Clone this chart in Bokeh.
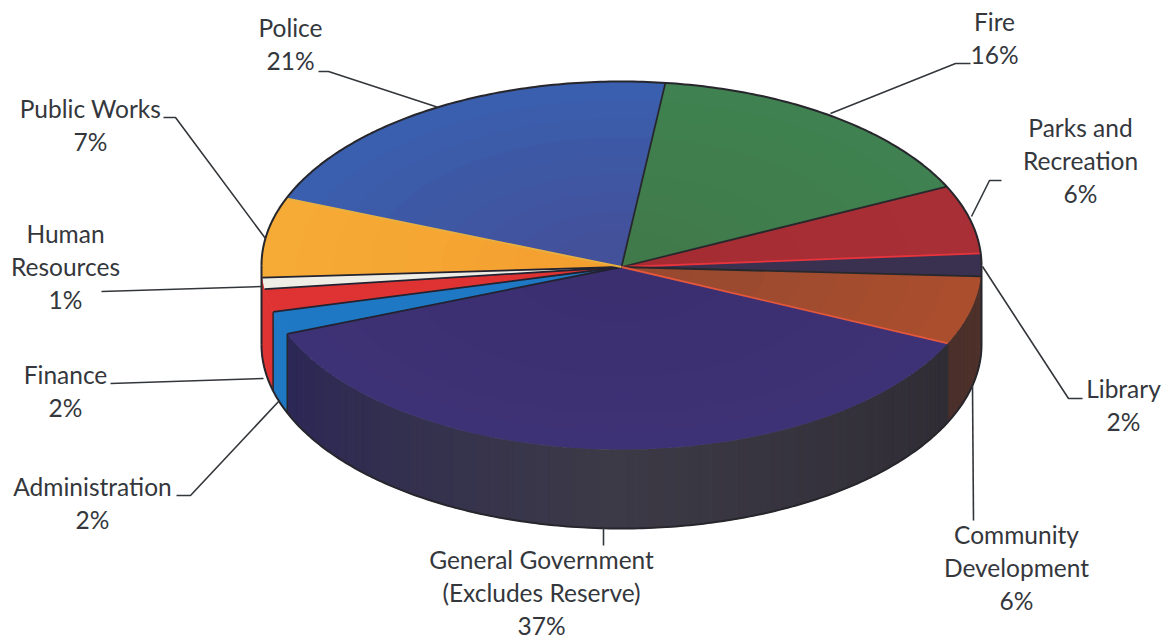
import numpy as np
from bokeh.core.properties import value
from bokeh.embed import file_html
from bokeh.models import Range1d
from bokeh.plotting import figure
from bokeh.resources import INLINE

# Budget shares, clockwise from the top of the pie
departments = ["Fire", "Parks and Recreation", "Library", "Community Development",
               "General Government", "Administration", "Finance", "Human Resources",
               "Public Works", "Police"]
shares = [16, 6, 2, 6, 37, 2, 2, 1, 7, 21]

# Top-face colours at the outer edge and towards the hub
top_outer = ["#3f8150", "#a92f36", "#3a3150", "#aa4e2e", "#3e3276", "#1f78c4",
             "#df3333", "#eeeee6", "#f6ab36", "#3a5fae"]
top_inner = ["#417a4a", "#a52c33", "#3a3150", "#98492f", "#3b2f70", "#1f78c4",
             "#df3333", "#eeeee6", "#f4a030", "#43509a"]
# Rim colours at each slice's start, middle and end
side_from = ["#2f6040", "#7a2a2c", "#2e2a36", "#4d3029", "#2f2c34", "#1f78c4",
             "#df3333", "#df3333", "#df3333", "#2f4a88"]
side_mid = ["#2f6040", "#7a2a2c", "#2e2a36", "#4c3029", "#3c3a46", "#1f78c4",
            "#df3333", "#df3333", "#df3333", "#2f4a88"]
side_to = ["#2f6040", "#7a2a2c", "#2e2a36", "#4a2f2a", "#2c2756", "#1f78c4",
           "#df3333", "#df3333", "#df3333", "#2f4a88"]
edge_colors = ["#27282c", "#27282c", "#e8343c", "#27282c", "#e4573c", "#222230",
               "#222230", "#222230", "#222230", "#e8b040"]

# Label text rows per department, with the column centre and first-row height
label_rows = {
    "Police": (["Police"], 290, 27),
    "Fire": (["Fire"], 994, 21),
    "Parks and Recreation": (["Parks and", "Recreation"], 1080, 127),
    "Library": (["Library"], 1123, 388),
    "Community Development": (["Community", "Development"], 1016, 534),
    "General Government": (["General Government", "(Excludes Reserve)"], 541, 559),
    "Administration": (["Administration"], 92, 486),
    "Finance": (["Finance"], 65, 374),
    "Human Resources": (["Human", "Resources"], 65, 233),
    "Public Works": (["Public Works"], 90, 108),
}

# Leader lines from each label to its slice
leaders = [
    ([318, 328, 438], [71, 71, 107]),
    ([970, 955, 830], [63, 63, 113]),
    ([1001, 989, 971], [180, 180, 216]),
    ([1082, 1068, 982], [398, 398, 266]),
    ([972, 973], [385, 520]),
    ([603, 603], [527, 545]),
    ([176, 190, 279], [495, 495, 400]),
    ([110, 263], [383, 378]),
    ([101, 262], [291, 286]),
    ([163, 175, 265], [117, 117, 238]),
]

CX, CY, RX, RY, DEPTH = 621, 265, 360, 184, 79
HUB_Y = 266.5
START = 7.0
INK = "#26262c"
TEXT = "#34373c"
FONT = "Lato"
ROW = 32.8


def rim(deg):
    t = np.radians(deg)
    return CX + RX * np.sin(t), CY - RY * np.cos(t)


def mix(a, b, f):
    ca = np.array([int(a[i:i + 2], 16) for i in (1, 3, 5)])
    cb = np.array([int(b[i:i + 2], 16) for i in (1, 3, 5)])
    c = np.round(ca + (cb - ca) * f).astype(int)
    return "#%02x%02x%02x" % tuple(c)


p = figure(width=1168, height=640, output_backend="svg", toolbar_location=None,
           x_range=Range1d(0, 1168), y_range=Range1d(640, 0),
           min_border=0, outline_line_color=None, background_fill_color="white")
p.axis.visible = False
p.grid.visible = False

sweeps = np.array(shares) * 3.6
bounds = START + np.concatenate([[0], np.cumsum(sweeps)])

# Rim: narrow vertical strips along the part of the edge that faces the viewer
for i in range(len(shares)):
    a0, a1 = max(bounds[i], 90), min(bounds[i + 1], 270)
    if a1 <= a0:
        continue
    n = max(2, int((a1 - a0) / 2))
    edges = np.linspace(a0, a1, n + 1)
    for j in range(n):
        x0, y0 = rim(edges[j])
        x1, y1 = rim(edges[j + 1])
        f = j / max(1, n - 1)
        c = mix(side_from[i], side_mid[i], f * 2) if f < 0.5 else mix(side_mid[i], side_to[i], f * 2 - 1)
        p.patch([x0, x1, x1, x0], [y0, y1, y1 + DEPTH, y0 + DEPTH],
                fill_color=c, line_color=c, line_width=1)

# Dark seams at the rim where neighbouring bright slices meet
for b in bounds:
    if 240 < b < 260:
        x, y = rim(b)
        p.line([x, x], [y, y + DEPTH], line_color=INK, line_width=1.5)

# Top face, shaded in rings from the outer edge towards the hub
for i in range(len(shares)):
    arc = np.linspace(bounds[i], bounds[i + 1], max(3, int(sweeps[i]) + 2))
    xs, ys = rim(arc)
    for scale in np.linspace(1.0, 0.2, 9):
        c = mix(top_outer[i], top_inner[i], (1.0 - scale) / 0.8)
        sx = CX + (xs - CX) * scale
        sy = HUB_Y + (ys - HUB_Y) * scale
        p.patch(np.r_[CX, sx], np.r_[HUB_Y, sy], fill_color=c, line_color=None)

# Slice borders
for i, b in enumerate(bounds[:-1]):
    x, y = rim(b)
    p.line([CX, x], [HUB_Y, y], line_color=edge_colors[i], line_width=1.8)

# Outline of the solid
top_arc = np.linspace(-90, 90, 240)
tx, ty = rim(top_arc)
p.line(tx, ty, line_color=INK, line_width=2)
low_arc = np.linspace(90, 270, 240)
lx, ly = rim(low_arc)
p.line(np.r_[tx[-1], lx], np.r_[ty[-1], ly + DEPTH], line_color=INK, line_width=2)
p.line([lx[-1], lx[-1]], [ly[-1] + DEPTH, ly[-1]], line_color=INK, line_width=2)

# Leaders
for xs, ys in leaders:
    p.line(xs, ys, line_color="#33363a", line_width=1.6)

# Labels
for name, share in zip(departments, shares):
    rows, x, y = label_rows[name]
    rows = rows + ["%d%%" % share]
    p.text([x] * len(rows), [y + ROW * k for k in range(len(rows))], text=rows,
           text_font=value(FONT), text_font_size="24.5px", text_color=TEXT,
           text_align="center", text_baseline="middle")

open("out.html", "w").write(file_html(p, INLINE))
